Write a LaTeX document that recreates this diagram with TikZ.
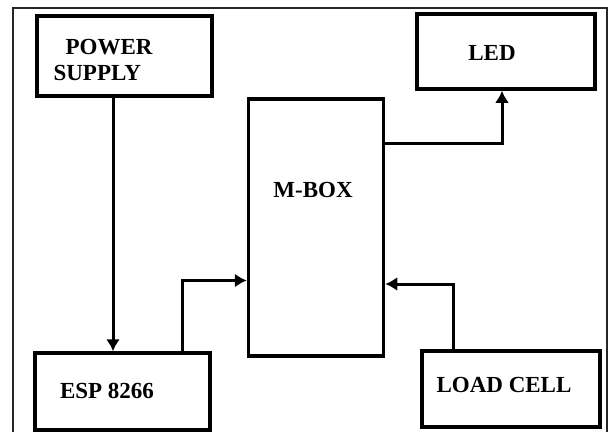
\documentclass[tikz,border=0pt]{standalone}
\usepackage{fontspec}
\setmainfont{Liberation Serif}
\usetikzlibrary{arrows.meta,positioning,calc}

\begin{document}
\begin{tikzpicture}[x=1pt,y=-1pt,
  every node/.style={font=\fontsize{23}{26}\selectfont\bfseries},
  blockbox/.style={draw, line width=3.5pt, inner sep=0pt},
  link/.style={line width=3pt, -{Latex[length=12pt,width=14pt]}}]
\useasboundingbox (0,0) rectangle (610,432);
\draw[line width=1.2pt, black!85] (13,432) |- (607,8) -- (607,432);

\node[blockbox, minimum width=175pt, minimum height=80pt] (ps) at (124.5,56) {};
\node[blockbox, minimum width=178pt, minimum height=75pt] (led) at (506,51.5) {};
\node[blockbox, minimum width=135pt, minimum height=257pt] (mbox) at (316,227.5) {};
\node[blockbox, minimum width=175pt, minimum height=77pt] (esp) at (122.5,391.5) {};
\node[blockbox, minimum width=178pt, minimum height=76pt] (load) at (511,389) {};

\node[align=left] (pstext) at (103,60) {\hspace{12pt}POWER\\SUPPLY};
\node (ledtext) at (492,53) {LED};
\node (mboxtext) at (313,190) {M-BOX};
\node (esptext) at (107,391) {ESP 8266};
\node (loadtext) at (504,385) {LOAD CELL};

\draw[link] ([xshift=-11.5pt]ps.south) -- ([xshift=-11.5pt]ps.south |- esp.north);
\draw[link] ([xshift=60pt]esp.north) |- ([yshift=-53pt]mbox.west);
\draw[link] ([yshift=84.5pt]mbox.east) -| ([xshift=-4pt]led.south);
\draw[link] ([xshift=-58pt]load.north) |- ([yshift=-56.5pt]mbox.east);
\end{tikzpicture}
\end{document}
